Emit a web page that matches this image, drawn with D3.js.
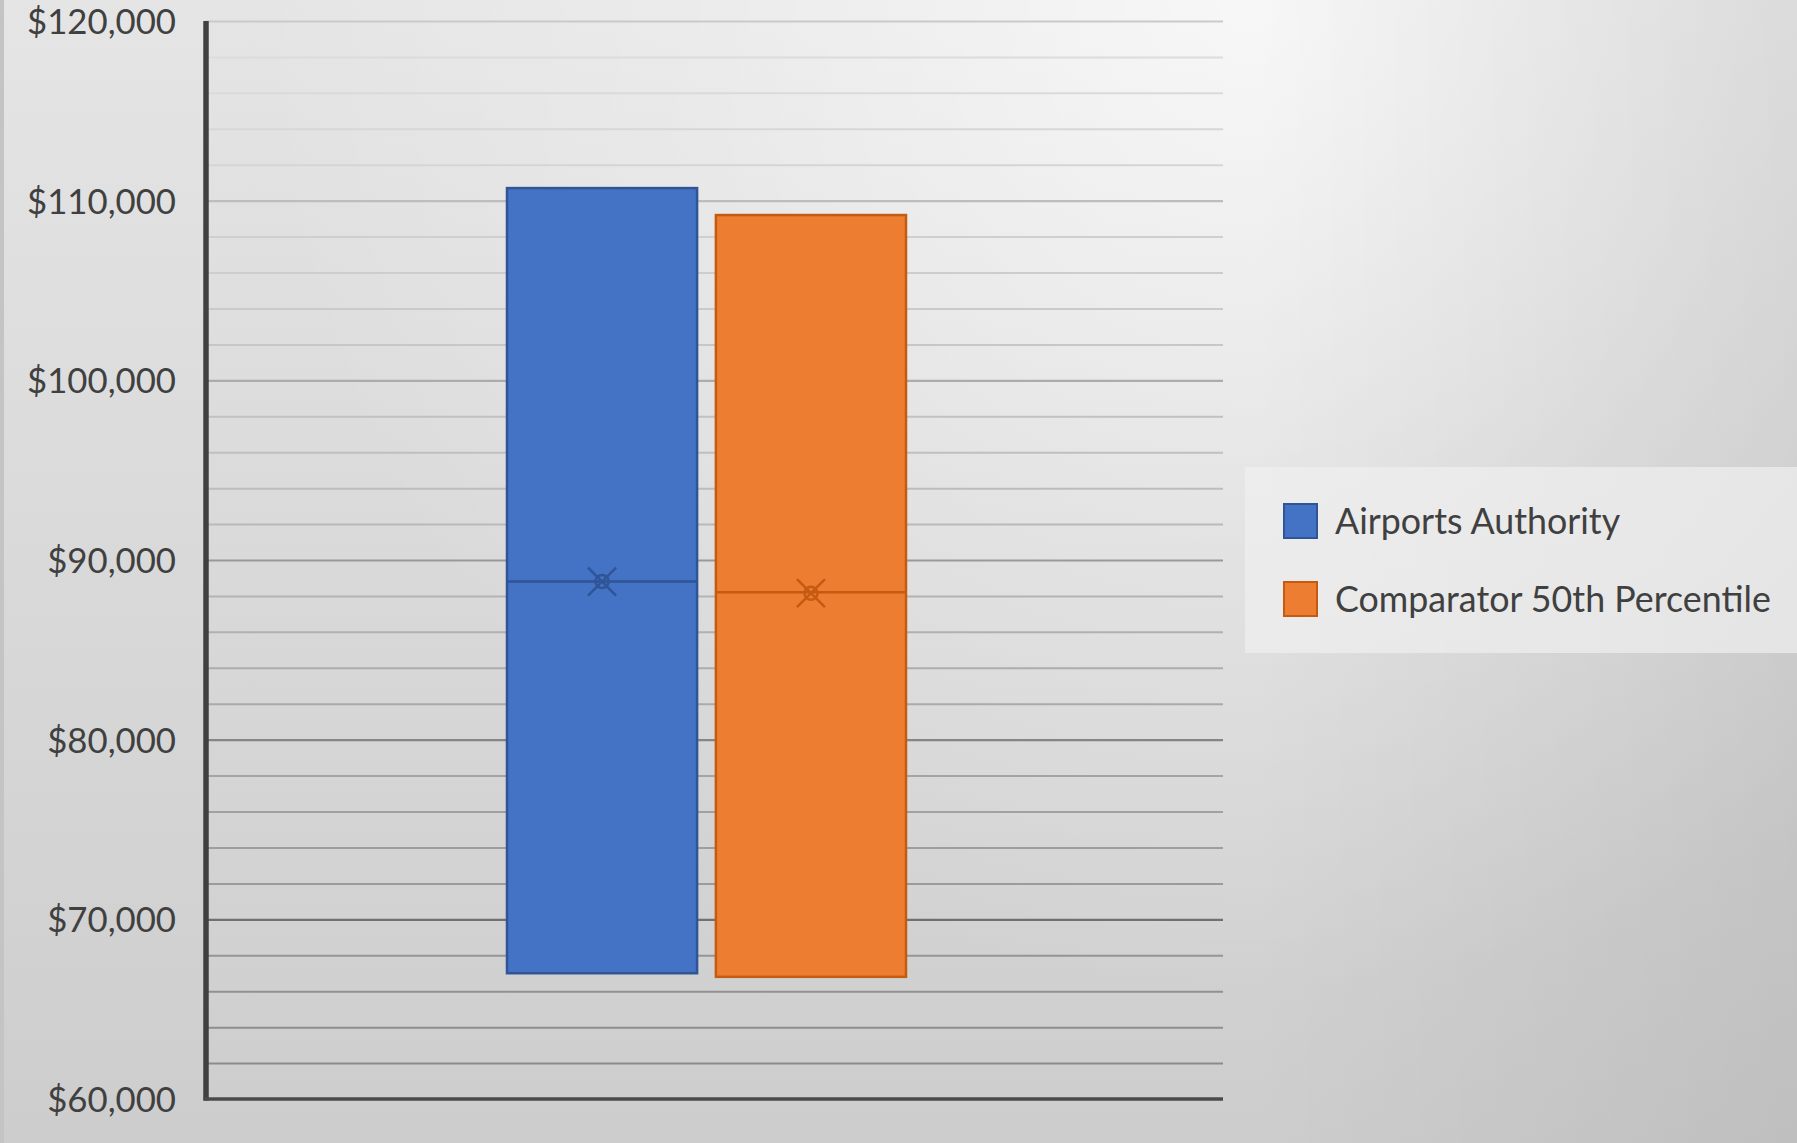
<!DOCTYPE html>
<html>
<head>
<meta charset="utf-8">
<script src="https://cdn.jsdelivr.net/npm/d3@7"></script>
<style>
  html, body { margin: 0; padding: 0; background: #dcdcdc; }
  svg { display: block; }
</style>
</head>
<body>
<script>
// ---- data ----
const seriesNames = ["Airports Authority", "Comparator 50th Percentile"];
const lowValues    = [67000, 66800];
const highValues   = [110700, 109200];
const medianValues = [88800, 88200];
const meanValues   = [88800, 88150];
const yDomain = [60000, 120000];
const majorTicks = [60000, 70000, 80000, 90000, 100000, 110000, 120000];
const minorStep = 2000;
const fillColors   = ["#4472C4", "#ED7D31"];
const strokeColors = ["#2F5597", "#C55A11"];

// ---- layout ----
const W = 1797, H = 1143;
const plot = { left: 206, right: 1223, top: 21, bottom: 1099 };
const FONT = "Lato, 'Open Sans', sans-serif";

const svg = d3.select("body").append("svg").attr("width", W).attr("height", H);
const defs = svg.append("defs");

// background gradients
const base = defs.append("linearGradient").attr("id", "bgBase")
  .attr("x1", 0).attr("y1", 0).attr("x2", 0).attr("y2", 1);
base.append("stop").attr("offset", "0%").attr("stop-color", "#e5e5e5");
base.append("stop").attr("offset", "100%").attr("stop-color", "#cdcdcd");

const glow = defs.append("radialGradient").attr("id", "bgGlow")
  .attr("gradientUnits", "userSpaceOnUse")
  .attr("cx", 1250).attr("cy", 0).attr("r", 1000);
glow.append("stop").attr("offset", "0%").attr("stop-color", "#fff").attr("stop-opacity", 0.7);
glow.append("stop").attr("offset", "55%").attr("stop-color", "#fff").attr("stop-opacity", 0.25);
glow.append("stop").attr("offset", "100%").attr("stop-color", "#fff").attr("stop-opacity", 0);

const shade = defs.append("linearGradient").attr("id", "bgShade")
  .attr("gradientUnits", "userSpaceOnUse")
  .attr("x1", 1250).attr("y1", 0).attr("x2", W).attr("y2", 0);
shade.append("stop").attr("offset", "0%").attr("stop-color", "#000").attr("stop-opacity", 0);
shade.append("stop").attr("offset", "100%").attr("stop-color", "#000").attr("stop-opacity", 0.07);

svg.append("rect").attr("width", W).attr("height", H).attr("fill", "url(#bgBase)");
svg.append("rect").attr("width", W).attr("height", H).attr("fill", "url(#bgGlow)");
svg.append("rect").attr("width", W).attr("height", H).attr("fill", "url(#bgShade)");
svg.append("rect").attr("width", 4).attr("height", H).attr("fill", "#c4c4c4");

// ---- scales ----
const y = d3.scaleLinear().domain(yDomain).range([plot.bottom, plot.top]);
const x = d3.scaleBand().domain(seriesNames).range([507, 906]).paddingInner(0.09);

// gridline colour darkens toward the bottom
const tOf = v => (y(v) - plot.top) / (plot.bottom - plot.top);
const minorCol = d3.interpolateRgb("#dedede", "#888888");
const majorCol = d3.interpolateRgb("#cacaca", "#5a5a5a");

// minor gridlines
const minorTicks = d3.range(yDomain[0] + minorStep, yDomain[1] + 1, minorStep)
  .filter(v => !majorTicks.includes(v));
svg.append("g")
  .attr("transform", `translate(${plot.left},0)`)
  .call(d3.axisLeft(y).tickValues(minorTicks).tickSize(-(plot.right - plot.left)).tickFormat(""))
  .call(g => g.select(".domain").remove())
  .call(g => g.selectAll(".tick line").attr("stroke", d => minorCol(Math.pow(tOf(d), 1.1))).attr("stroke-width", 2));

// major gridlines
svg.append("g")
  .attr("transform", `translate(${plot.left},0)`)
  .call(d3.axisLeft(y).tickValues(majorTicks.filter(v => v !== yDomain[0]))
    .tickSize(-(plot.right - plot.left)).tickFormat(""))
  .call(g => g.select(".domain").remove())
  .call(g => g.selectAll(".tick line").attr("stroke", d => majorCol(Math.pow(tOf(d), 1.2))).attr("stroke-width", 2.2));

// y tick labels
const fmt = v => "$" + d3.format(",")(v);
const yLab = svg.append("g")
  .attr("transform", `translate(${plot.left},0)`)
  .call(d3.axisLeft(y).tickValues(majorTicks).tickSize(0).tickPadding(30).tickFormat(fmt))
  .call(g => g.select(".domain").remove());
yLab.selectAll("text")
  .attr("font-family", FONT).attr("font-size", 32).attr("fill", "#404040")
  .attr("dy", "0.36em");
(function () {
  const t = yLab.selectAll("text").filter(d => d === 120000).node();
  const w = t.getComputedTextLength();
  yLab.selectAll("text").attr("font-size", 32 * 149 / w);
})();

// axis lines
svg.append("line")
  .attr("x1", plot.left).attr("x2", plot.left)
  .attr("y1", plot.top).attr("y2", plot.bottom + 1.5)
  .attr("stroke", "#404040").attr("stroke-width", 5.5);
svg.append("line")
  .attr("x1", plot.left - 2.5).attr("x2", plot.right)
  .attr("y1", plot.bottom).attr("y2", plot.bottom)
  .attr("stroke", "#4a4a4a").attr("stroke-width", 3.5);

// boxes
const boxes = svg.append("g").selectAll("g").data(seriesNames).join("g");
boxes.append("rect")
  .attr("x", d => x(d))
  .attr("width", x.bandwidth())
  .attr("y", (d, i) => y(highValues[i]))
  .attr("height", (d, i) => y(lowValues[i]) - y(highValues[i]))
  .attr("fill", (d, i) => fillColors[i])
  .attr("stroke", (d, i) => strokeColors[i])
  .attr("stroke-width", 2.5);
boxes.append("line")
  .attr("x1", d => x(d)).attr("x2", d => x(d) + x.bandwidth())
  .attr("y1", (d, i) => y(medianValues[i])).attr("y2", (d, i) => y(medianValues[i]))
  .attr("stroke", (d, i) => strokeColors[i]).attr("stroke-width", 2.5);
const mk = 14;
boxes.each(function (d, i) {
  const g = d3.select(this);
  const cx = x(d) + x.bandwidth() / 2, cy = y(meanValues[i]);
  g.append("path")
    .attr("d", `M${cx - mk},${cy - mk}L${cx + mk},${cy + mk}M${cx - mk},${cy + mk}L${cx + mk},${cy - mk}`)
    .attr("stroke", strokeColors[i]).attr("stroke-width", 2.5).attr("fill", "none");
  g.append("circle").attr("cx", cx).attr("cy", cy).attr("r", 6.5)
    .attr("fill", "none").attr("stroke", strokeColors[i]).attr("stroke-width", 2.5);
});

// legend
const leg = svg.append("g");
leg.append("rect").attr("x", 1245).attr("y", 467).attr("width", W - 1245 + 10).attr("height", 186)
  .attr("fill", "#efefef").attr("opacity", 0.7);
const items = leg.selectAll("g.item").data(seriesNames).join("g").attr("class", "item")
  .attr("transform", (d, i) => `translate(1284,${504 + i * 78})`);
items.append("rect").attr("width", 33).attr("height", 34)
  .attr("fill", (d, i) => fillColors[i])
  .attr("stroke", (d, i) => strokeColors[i]).attr("stroke-width", 2);
const legText = items.append("text").attr("x", 51).attr("y", 30)
  .attr("font-family", FONT).attr("font-size", 33).attr("fill", "#404040")
  .text(d => d);
(function () {
  const n = legText.filter((d, i) => i === 1).node();
  const w = n.getComputedTextLength();
  legText.attr("font-size", 33 * 436 / w);
})();
</script>
</body>
</html>
